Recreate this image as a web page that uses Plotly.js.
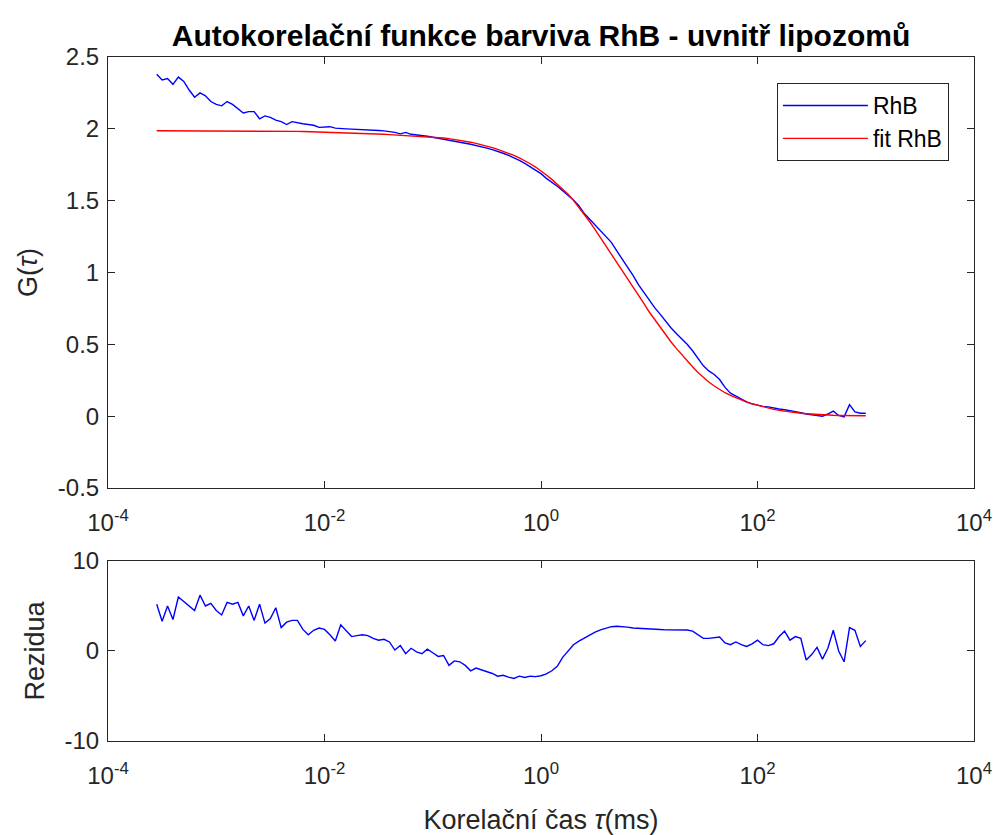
<!DOCTYPE html>
<html>
<head>
<meta charset="utf-8">
<script src="https://cdn.plot.ly/plotly-3.0.1.min.js"></script>
<style>html,body{margin:0;padding:0;background:#fff;}</style>
</head>
<body>
<div id="chart" style="width:999px;height:835px;"></div>
<script>
// Correlation time tau (ms)
const tau = [
  2.818e-4, 3.162e-4, 3.548e-4, 3.981e-4, 4.467e-4, 5.012e-4, 5.623e-4, 6.310e-4, 7.079e-4, 7.943e-4, 8.913e-4,
  1.000e-3, 1.122e-3, 1.259e-3, 1.413e-3, 1.585e-3, 1.778e-3, 1.995e-3, 2.239e-3, 2.512e-3, 2.818e-3,
  3.162e-3, 3.548e-3, 3.981e-3, 4.467e-3, 5.012e-3, 5.623e-3, 6.310e-3, 7.079e-3, 7.943e-3, 8.913e-3,
  1.000e-2, 1.122e-2, 1.259e-2, 1.413e-2, 1.585e-2, 1.778e-2, 1.995e-2, 2.239e-2, 2.512e-2, 2.818e-2,
  3.162e-2, 3.548e-2, 3.981e-2, 4.467e-2, 5.012e-2, 5.623e-2, 6.310e-2, 7.079e-2, 7.943e-2, 8.913e-2,
  0.1000, 0.1122, 0.1259, 0.1413, 0.1585, 0.1778, 0.1995, 0.2239, 0.2512, 0.2818,
  0.3162, 0.3548, 0.3981, 0.4467, 0.5012, 0.5623, 0.6310, 0.7079, 0.7943, 0.8913,
  1.000, 1.122, 1.259, 1.413, 1.585, 1.778, 1.995, 2.239, 2.512, 2.818,
  3.162, 3.548, 3.981, 4.467, 5.012, 5.623, 6.310, 7.079, 7.943, 8.913,
  10.00, 11.22, 12.59, 14.13, 15.85, 17.78, 19.95, 22.39, 25.12, 28.18,
  31.62, 35.48, 39.81, 44.67, 50.12, 56.23, 63.10, 70.79, 79.43, 89.13,
  100.0, 112.2, 125.9, 141.3, 158.5, 177.8, 199.5, 223.9, 251.2, 281.8,
  316.2, 354.8, 398.1, 446.7, 501.2, 562.3, 631.0, 707.9, 794.3, 891.3,
  1000
];

// Measured autocorrelation G(tau) of RhB
const gRhB = [
  2.38, 2.34, 2.35, 2.31, 2.36, 2.33, 2.27, 2.22, 2.25, 2.23, 2.19,
  2.17, 2.16, 2.19, 2.17, 2.14, 2.11, 2.12, 2.12, 2.07, 2.09,
  2.08, 2.06, 2.05, 2.03, 2.05, 2.04, 2.035, 2.03, 2.025, 2.01,
  2.015, 2.015, 2.005, 2.005, 2.0, 1.998, 1.997, 1.995, 1.993, 1.992,
  1.988, 1.986, 1.982, 1.975, 1.965, 1.975, 1.962, 1.958, 1.955, 1.948,
  1.941, 1.935, 1.927, 1.922, 1.915, 1.907, 1.900, 1.893, 1.885, 1.877,
  1.866, 1.855, 1.845, 1.830, 1.815, 1.800, 1.780, 1.760, 1.738, 1.715,
  1.688, 1.655, 1.630, 1.600, 1.570, 1.540, 1.505, 1.465, 1.410, 1.370,
  1.330, 1.295, 1.255, 1.210, 1.150, 1.095, 1.040, 0.980, 0.915, 0.860,
  0.810, 0.755, 0.710, 0.660, 0.615, 0.575, 0.540, 0.500, 0.455, 0.405,
  0.350, 0.315, 0.290, 0.255, 0.200, 0.160, 0.140, 0.115, 0.100, 0.085,
  0.075, 0.068, 0.065, 0.055, 0.050, 0.045, 0.040, 0.035, 0.025, 0.015,
  0.010, 0.008, 0.000, 0.015, 0.035, 0.005, -0.005, 0.080, 0.030, 0.020, 0.020
];

// Fitted G(tau)
const gFit = [
  1.987, 1.987, 1.987, 1.987, 1.987, 1.987, 1.987, 1.987, 1.987, 1.987, 1.987,
  1.986, 1.986, 1.986, 1.986, 1.986, 1.986, 1.986, 1.986, 1.986, 1.986,
  1.984, 1.984, 1.983, 1.983, 1.982, 1.982, 1.981, 1.980, 1.974, 1.973,
  1.972, 1.972, 1.971, 1.971, 1.970, 1.969, 1.968, 1.967, 1.966, 1.965,
  1.964, 1.962, 1.960, 1.958, 1.956, 1.954, 1.952, 1.950, 1.948, 1.946,
  1.943, 1.940, 1.936, 1.932, 1.927, 1.921, 1.914, 1.907, 1.899, 1.890,
  1.880, 1.869, 1.857, 1.844, 1.830, 1.815, 1.797, 1.778, 1.757, 1.734,
  1.708, 1.679, 1.648, 1.615, 1.580, 1.545, 1.502, 1.455, 1.405, 1.353,
  1.298, 1.242, 1.184, 1.126, 1.070, 1.014, 0.958, 0.902, 0.843, 0.785,
  0.725, 0.672, 0.620, 0.568, 0.518, 0.472, 0.428, 0.386, 0.344, 0.304,
  0.268, 0.238, 0.210, 0.185, 0.163, 0.145, 0.128, 0.112, 0.098, 0.086,
  0.075, 0.064, 0.055, 0.047, 0.040, 0.034, 0.029, 0.024, 0.020, 0.017,
  0.014, 0.011, 0.009, 0.007, 0.006, 0.005, 0.004, 0.004, 0.003, 0.003, 0.003
];

// Weighted residuals
const rezidua = [
  5.2, 3.3, 5.0, 3.5, 6.0, 5.5, 4.9, 4.5, 6.2, 5.0, 5.3,
  4.5, 4.0, 5.4, 5.2, 5.4, 3.9, 5.0, 3.4, 5.2, 3.1,
  3.6, 4.8, 2.6, 3.2, 3.4, 3.4, 2.4, 1.8, 2.3, 2.55,
  2.4, 1.8, 1.1, 2.9, 2.3, 1.6, 1.7, 1.8, 1.7, 1.4,
  1.2, 1.3, 1.0, 0.1, 0.6, -0.3, 0.3, -0.1, -0.3, 0.2,
  -0.2, -0.6, -0.5, -1.6, -1.1, -1.2, -1.6, -2.2, -1.9, -2.1,
  -2.3, -2.5, -2.8, -2.7, -2.9, -3.05, -2.8, -2.95, -2.8, -2.85,
  -2.75, -2.55, -2.2, -1.7, -0.7, 0.0, 0.7, 1.1, 1.45, 1.8,
  2.1, 2.35, 2.55, 2.7, 2.75, 2.72, 2.65, 2.55, 2.5, 2.48,
  2.45, 2.42, 2.38, 2.35, 2.33, 2.33, 2.33, 2.33, 2.2, 1.8,
  1.4, 1.4, 1.5, 1.55, 0.9, 0.7, 1.0, 0.7, 0.5, 0.8,
  1.2, 0.7, 0.6, 0.8, 1.6, 2.2, 1.2, 1.6, 1.4, -1.0,
  -0.4, 0.4, -0.9, 0.3, 2.3, 0.0, -1.2, 2.6, 2.3, 0.5, 1.15
];

const xTickVals = [1e-4, 1e-2, 1, 1e2, 1e4];
const xTickText = ['10<sup>-4</sup>', '10<sup>-2</sup>', '10<sup>0</sup>', '10<sup>2</sup>', '10<sup>4</sup>'];
const gTickVals = [-0.5, 0, 0.5, 1, 1.5, 2, 2.5];
const gTickText = ['-0.5', '0', '0.5', '1', '1.5', '2', '2.5'];
const rTickVals = [-10, 0, 10];
const rTickText = ['-10', '0', '10'];

const AX = '#262626';
const FONT = 'Liberation Sans, Arial, Helvetica, sans-serif';
const TICK_SIZE = 24;
const LABEL_SIZE = 27;

const traces = [
  {x: tau, y: gRhB, type: 'scatter', mode: 'lines', name: 'RhB',
   line: {color: '#0000ff', width: 1.4}, xaxis: 'x', yaxis: 'y'},
  {x: tau, y: gFit, type: 'scatter', mode: 'lines', name: 'fit RhB',
   line: {color: '#ff0000', width: 1.4}, xaxis: 'x', yaxis: 'y'},
  {x: tau, y: rezidua, type: 'scatter', mode: 'lines', name: 'Rezidua',
   line: {color: '#0000ff', width: 1.4}, xaxis: 'x2', yaxis: 'y2', showlegend: false}
];

function xAxis(anchor, extra) {
  return Object.assign({
    type: 'log', range: [-4, 4], anchor: anchor, domain: [0, 1],
    tickvals: xTickVals, ticktext: xTickText,
    ticks: 'inside', ticklen: 7, tickwidth: 1, tickcolor: AX,
    showline: true, linecolor: AX, linewidth: 1, mirror: 'ticks',
    showgrid: false, zeroline: false, ticklabelstandoff: 13,
    tickfont: {size: TICK_SIZE, color: AX, family: FONT}
  }, extra || {});
}
function yAxis(anchor, domain, range, tv, tt, title) {
  return {
    anchor: anchor, domain: domain, range: range,
    tickvals: tv, ticktext: tt,
    ticks: 'inside', ticklen: 7, tickwidth: 1, tickcolor: AX,
    showline: true, linecolor: AX, linewidth: 1, mirror: 'ticks',
    showgrid: false, zeroline: false, ticklabelstandoff: 3,
    tickfont: {size: TICK_SIZE, color: AX, family: FONT},
    title: {text: title, font: {size: LABEL_SIZE, color: AX, family: FONT}, standoff: 12}
  };
}

const layout = {
  width: 999, height: 835,
  margin: {l: 108, r: 25, t: 57, b: 94},
  paper_bgcolor: '#ffffff', plot_bgcolor: '#ffffff',
  font: {family: FONT, color: AX, size: TICK_SIZE},
  title: {
    text: '<b>Autokorelační funkce barviva RhB - uvnitř lipozomů</b>',
    x: 0.5, xref: 'paper', xanchor: 'center',
    y: 1 - 35 / 835, yref: 'container', yanchor: 'middle',
    font: {size: 30, color: '#000000', family: FONT}
  },
  showlegend: true,
  legend: {
    x: 0.971, xanchor: 'right', y: 0.962, yanchor: 'top',
    bordercolor: AX, borderwidth: 1, bgcolor: '#ffffff',
    font: {size: 23, color: '#000000', family: FONT},
    itemwidth: 85, tracegroupgap: 0
  },
  xaxis: xAxis('y'),
  yaxis: yAxis('x', [0.3699, 1], [-0.5, 2.5], gTickVals, gTickText, 'G(<i>τ</i>)'),
  xaxis2: xAxis('y2', {title: {text: 'Korelační čas <i>τ</i>(ms)', font: {size: LABEL_SIZE, color: AX, family: FONT}, standoff: 22}}),
  yaxis2: yAxis('x2', [0, 0.2632], [-10, 10], rTickVals, rTickText, 'Rezidua')
};

Plotly.newPlot('chart', traces, layout, {displayModeBar: false, staticPlot: true});
</script>
</body>
</html>
